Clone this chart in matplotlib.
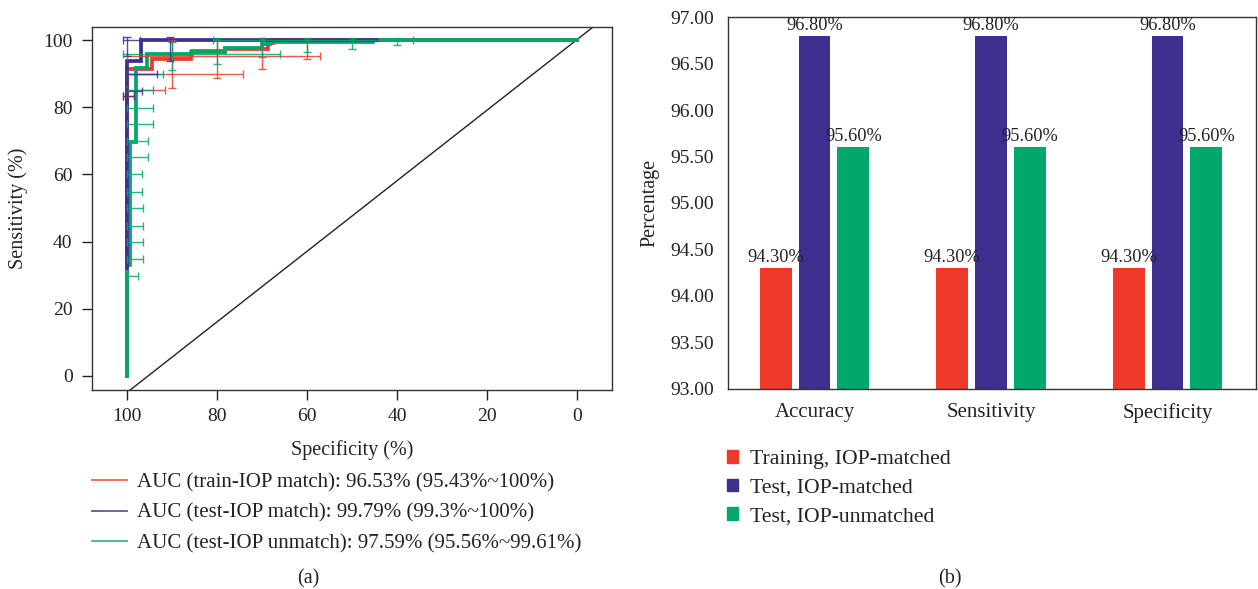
import matplotlib
matplotlib.use('Agg')
import matplotlib.pyplot as plt
from matplotlib.lines import Line2D
from matplotlib.patches import Patch

plt.rcParams['font.family'] = ['Liberation Serif', 'DejaVu Serif']

RED = '#EF3A29'
PURPLE = '#3F2F8F'
GREEN = '#00A86B'

# ---- (a) ROC curves: step vertices (specificity %, sensitivity %)
red_spec = [100, 100, 94.4, 94.4, 85.8, 85.8, 78.2, 78.2, 68.7, 68.7, 67.5, 67.5, 0]
red_sens = [0, 91.4, 91.4, 94.3, 94.3, 96.4, 96.4, 97.3, 97.3, 99.1, 99.1, 100, 100]

purple_spec = [100, 100, 96.9, 96.9, 44.4]
purple_sens = [32.1, 93.7, 93.7, 100, 100]

green_spec = [100, 100, 99.3, 99.3, 98.0, 98.0, 95.6, 95.6, 85.6, 85.6, 78.2, 78.2, 70.0, 70.0, 68.2, 68.2, 45.3, 45.3, 0]
green_sens = [0, 33.0, 33.0, 69.6, 69.6, 91.7, 91.7, 95.8, 95.8, 96.7, 96.7, 97.6, 97.6, 98.8, 98.8, 99.4, 99.4, 100, 100]

# confidence intervals: horizontal (specificity CI at a sensitivity)
red_h_sens = [95.3, 90, 85, 83.3]
red_h_hi = [100, 100, 100, 101]
red_h_lo = [57, 74.3, 91.6, 98.5]
# vertical (sensitivity CI at a specificity)
red_v_spec = [90, 80, 70, 60]
red_v_lo = [85.7, 88.7, 91.4, 94.3]
red_v_hi = [100, 100, 100.6, 100]

purple_h_sens = [100, 90, 84.8, 83.3]
purple_h_hi = [101, 100, 100, 101]
purple_h_lo = [97.1, 93.3, 96.7, 98.5]
purple_v_spec = [100, 90.5]
purple_v_lo = [95.2, 93.8]
purple_v_hi = [100.9, 100.9]

green_h_sens = [29.8, 34.8, 40, 44.6, 50, 54.8, 60.1, 65.2, 70, 75, 79.8, 85, 90, 95.8, 100]
green_h_hi = [100, 100, 100, 100, 100, 100, 100, 100, 100, 100, 100, 100, 100, 101, 81]
green_h_lo = [97.5, 96.4, 96.4, 96.4, 96.4, 96.7, 96.7, 95.3, 95.3, 94.2, 94.2, 94.2, 92.0, 66.0, 36.4]
green_v_spec = [90, 80, 70, 60, 50, 40]
green_v_lo = [91, 92.9, 95, 96.4, 97.3, 98.5]
green_v_hi = [99.4, 100.6, 100.6, 100.6, 100.6, 100.6]

diag_spec = [99.3, -3.6]
diag_sens = [-4.2, 103.9]

roc_labels = ['AUC (train-IOP match): 96.53% (95.43%~100%)',
              'AUC (test-IOP match): 99.79% (99.3%~100%)',
              'AUC (test-IOP unmatch): 97.59% (95.56%~99.61%)']

# ---- (b) bar chart
metrics = ['Accuracy', 'Sensitivity', 'Specificity']
groups = ['Training, IOP-matched', 'Test, IOP-matched', 'Test, IOP-unmatched']
train_matched = [94.3, 94.3, 94.3]
test_matched = [96.8, 96.8, 96.8]
test_unmatched = [95.6, 95.6, 95.6]

fig = plt.figure(figsize=(12.58, 5.89), dpi=100)

# ---------------- panel (a)
ax1 = fig.add_axes([0.0731, 0.3379, 0.4134, 0.6163])
ax1.plot(diag_spec, diag_sens, color='#222222', lw=1.0)

for sp, se, c in [(red_spec, red_sens, RED), (green_spec, green_sens, GREEN), (purple_spec, purple_sens, PURPLE)]:
    ax1.plot(sp, se, color=c, lw=2.7, solid_joinstyle='miter')

def draw_ci(ax, c, h_sens, h_hi, h_lo, v_spec, v_lo, v_hi):
    hx = [(a + b) / 2 for a, b in zip(h_hi, h_lo)]
    hxerr = [(a - b) / 2 for a, b in zip(h_hi, h_lo)]
    ax.errorbar(hx, h_sens, xerr=hxerr, fmt='none', ecolor=c, elinewidth=1.0, capsize=3.2, capthick=1.0, alpha=0.85)
    vy = [(a + b) / 2 for a, b in zip(v_hi, v_lo)]
    vyerr = [(a - b) / 2 for a, b in zip(v_hi, v_lo)]
    ax.errorbar(v_spec, vy, yerr=vyerr, fmt='none', ecolor=c, elinewidth=1.0, capsize=3.2, capthick=1.0, alpha=0.85)

draw_ci(ax1, RED, red_h_sens, red_h_hi, red_h_lo, red_v_spec, red_v_lo, red_v_hi)
draw_ci(ax1, GREEN, green_h_sens, green_h_hi, green_h_lo, green_v_spec, green_v_lo, green_v_hi)
draw_ci(ax1, PURPLE, purple_h_sens, purple_h_hi, purple_h_lo, purple_v_spec, purple_v_lo, purple_v_hi)

ax1.set_xlim(107.8, -7.8)
ax1.set_ylim(-4.2, 103.9)
ax1.set_xticks([100, 80, 60, 40, 20, 0])
ax1.set_yticks([0, 20, 40, 60, 80, 100])
ax1.tick_params(labelsize=14, length=7, width=1, color='#222222', labelcolor='#222222')
ax1.tick_params(axis='y', pad=7)
ax1.tick_params(axis='x', pad=6)
ax1.set_xlabel('Specificity (%)', fontsize=14.5, color='#222222', labelpad=11)
ax1.set_ylabel('Sensitivity (%)', fontsize=14.5, color='#222222', labelpad=11)
for s in ax1.spines.values():
    s.set_color('#333333')
    s.set_linewidth(1.0)

handles = [Line2D([], [], color=c, lw=1.3, alpha=0.8) for c in [RED, PURPLE, GREEN]]
fig.legend(handles, roc_labels, loc='upper left', bbox_to_anchor=(0.0583, 0.229), frameon=False,
           fontsize=15, handlelength=1.68, handletextpad=0.48, labelspacing=0.52, labelcolor='#222222')
fig.text(0.245, 0.01, '(a)', fontsize=14.5, ha='center', color='#222222')

# ---------------- panel (b)
ax2 = fig.add_axes([0.5787, 0.3396, 0.4195, 0.6315])
x = list(range(len(metrics)))
w = 0.18
step = 0.22
for off, vals, c in [(-step, train_matched, RED), (0, test_matched, PURPLE), (step, test_unmatched, GREEN)]:
    pos = [xi + off for xi in x]
    bars = ax2.bar(pos, vals, width=w, color=c, bottom=0)
    for b, v in zip(bars, vals):
        ax2.text(b.get_x() + b.get_width() / 2, v + 0.02, '%.2f%%' % v, ha='center', va='bottom',
                 fontsize=13.2, color='#222222')

ax2.set_xlim(-0.49, 2.5)
ax2.set_ylim(93, 97)
ax2.set_yticks([93 + 0.5 * i for i in range(9)])
ax2.yaxis.set_major_formatter('{x:.2f}')
ax2.set_xticks(x)
ax2.set_xticklabels(metrics, fontsize=15)
ax2.tick_params(axis='y', length=0, labelsize=14, pad=10, labelcolor='#222222')
ax2.tick_params(axis='x', length=0, pad=10, labelcolor='#222222')
ax2.set_ylabel('Percentage', fontsize=14.5, color='#222222', labelpad=8)
for s in ax2.spines.values():
    s.set_color('#333333')
    s.set_linewidth(1.0)

bar_handles = [Patch(color=c) for c in [RED, PURPLE, GREEN]]
fig.legend(bar_handles, groups, loc='upper left', bbox_to_anchor=(0.5624, 0.269), frameon=False,
           fontsize=15.7, handlelength=0.52, handleheight=0.52, handletextpad=0.52, labelspacing=0.43,
           labelcolor='#222222')
fig.text(0.755, 0.01, '(b)', fontsize=14.5, ha='center', color='#222222')

fig.savefig('out.png', dpi=100)
